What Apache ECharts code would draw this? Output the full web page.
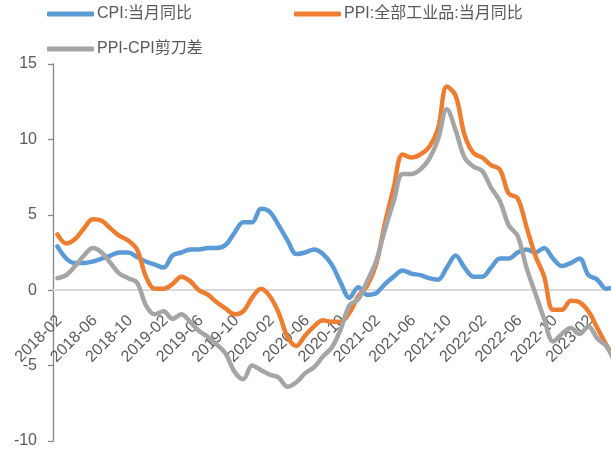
<!DOCTYPE html>
<html>
<head>
<meta charset="utf-8">
<script src="https://cdn.jsdelivr.net/npm/echarts@6/dist/echarts.min.js"></script>
<style>
  html, body { margin: 0; padding: 0; background: #fff; }
  #chart { width: 611px; height: 455px; }
</style>
</head>
<body>
<div id="chart"></div>
<script>
// meses (2018-02 .. 2023-05)
var months = [
  '2018-02', '2018-03', '2018-04', '2018-05', '2018-06', '2018-07', '2018-08', '2018-09', '2018-10', '2018-11', '2018-12',
  '2019-01', '2019-02', '2019-03', '2019-04', '2019-05', '2019-06', '2019-07', '2019-08', '2019-09', '2019-10', '2019-11', '2019-12',
  '2020-01', '2020-02', '2020-03', '2020-04', '2020-05', '2020-06', '2020-07', '2020-08', '2020-09', '2020-10', '2020-11', '2020-12',
  '2021-01', '2021-02', '2021-03', '2021-04', '2021-05', '2021-06', '2021-07', '2021-08', '2021-09', '2021-10', '2021-11', '2021-12',
  '2022-01', '2022-02', '2022-03', '2022-04', '2022-05', '2022-06', '2022-07', '2022-08', '2022-09', '2022-10', '2022-11', '2022-12',
  '2023-01', '2023-02', '2023-03', '2023-04', '2023-05'
];

var cpi = [
  2.9, 2.1, 1.8, 1.8, 1.9, 2.1, 2.3, 2.5, 2.5, 2.2, 1.9,
  1.7, 1.5, 2.3, 2.5, 2.7, 2.7, 2.8, 2.8, 3.0, 3.8, 4.5, 4.5,
  5.4, 5.2, 4.3, 3.3, 2.4, 2.5, 2.7, 2.4, 1.7, 0.5, -0.5, 0.2,
  -0.3, -0.2, 0.4, 0.9, 1.3, 1.1, 1.0, 0.8, 0.7, 1.5, 2.3, 1.5,
  0.9, 0.9, 1.5, 2.1, 2.1, 2.5, 2.7, 2.5, 2.8, 2.1, 1.6, 1.8,
  2.1, 1.0, 0.7, 0.1, 0.2
];

var ppi = [
  3.7, 3.1, 3.4, 4.1, 4.7, 4.6, 4.1, 3.6, 3.3, 2.7, 0.9,
  0.1, 0.1, 0.4, 0.9, 0.6, 0.0, -0.3, -0.8, -1.2, -1.6, -1.4, -0.5,
  0.1, -0.4, -1.5, -3.1, -3.7, -3.0, -2.4, -2.0, -2.1, -2.1, -1.5, -0.4,
  0.3, 1.7, 4.4, 6.8, 9.0, 8.8, 9.0, 9.5, 10.7, 13.5, 12.9, 10.3,
  9.1, 8.8, 8.3, 8.0, 6.4, 6.1, 4.2, 2.3, 0.9, -1.3, -1.3, -0.7,
  -0.8, -1.4, -2.5, -3.6, -4.6
];

var gap = [
  0.8, 1.0, 1.6, 2.3, 2.8, 2.5, 1.8, 1.1, 0.8, 0.5, -1.0,
  -1.6, -1.4, -1.9, -1.6, -2.1, -2.7, -3.1, -3.6, -4.2, -5.4, -5.9, -5.0,
  -5.3, -5.6, -5.8, -6.4, -6.1, -5.5, -5.1, -4.4, -3.8, -2.6, -1.0, -0.6,
  0.6, 1.9, 4.0, 5.9, 7.7, 7.7, 8.0, 8.7, 10.0, 12.0, 10.6, 8.8,
  8.2, 7.9, 6.8, 5.9, 4.3, 3.6, 1.5, -0.2, -1.9, -3.4, -2.9, -2.5,
  -2.9, -2.4, -3.2, -3.7, -4.8
];

var names = ['CPI:当月同比', 'PPI:全部工业品:当月同比', 'PPI-CPI剪刀差'];
var colors = ['#5B9BD5', '#ED7D31', '#A5A5A5'];

var font = '"Liberation Sans", Arial, "Noto Sans CJK SC", sans-serif';

// grid: top 64, bottom 14 -> cero en y≈290, el eje x se sube con offset
var gridTop = 64, gridBottom = 14, yMin = -10, yMax = 15;
var plotH = 455 - gridTop - gridBottom;
var zeroOffset = -(plotH * (0 - yMin) / (yMax - yMin));
// etiquetas del eje x: segunda rejilla cuyo borde inferior queda bajo la línea del cero
var labelShift = 2;
var labelEdgeY = 310;

var myChart = echarts.init(document.getElementById('chart'), null, { renderer: 'canvas' });

function legendItem(name, left, top) {
  return {
    data: [name],
    left: left,
    top: top,
    padding: 0,
    icon: 'roundRect',
    itemWidth: 47,
    itemHeight: 5,
    selectedMode: false,
    textStyle: { fontSize: 16, color: '#595959', fontFamily: font, padding: [0, 0, 0, -2] }
  };
}

function lineSeries(i, data) {
  return {
    name: names[i],
    type: 'line',
    data: data,
    smooth: 0.35,
    symbol: 'none',
    color: colors[i],
    lineStyle: { width: 4.5, color: colors[i], cap: 'round', join: 'round' }
  };
}

var option = {
  animation: false,
  backgroundColor: '#fff',
  legend: [
    legendItem(names[0], 47, 6),
    legendItem(names[1], 294, 6),
    legendItem(names[2], 47, 41)
  ],
  grid: [
    { left: 53, right: -8.4, top: gridTop, bottom: gridBottom, containLabel: false, outerBoundsMode: 'none' },
    { left: 53 + labelShift, right: -8.4 - labelShift, top: gridTop, bottom: 455 - labelEdgeY, containLabel: false, outerBoundsMode: 'none' }
  ],
  xAxis: [
    {
      type: 'category',
      data: months,
      boundaryGap: true,
      offset: zeroOffset,
      axisLine: { onZero: false, lineStyle: { color: '#d9d9d9', width: 2 } },
      axisTick: { interval: 3, length: 5, lineStyle: { color: '#d9d9d9', width: 1.5 } },
      axisLabel: { show: false },
      splitLine: { show: false }
    },
    {
      gridIndex: 1,
      type: 'category',
      data: months,
      boundaryGap: true,
      axisLine: { show: false, onZero: false },
      axisTick: { show: false },
      axisLabel: {
        interval: 3,
        rotate: 45,
        margin: 8,
        fontSize: 16,
        color: '#595959',
        fontFamily: font
      },
      splitLine: { show: false }
    }
  ],
  yAxis: [
    {
      type: 'value',
      min: yMin,
      max: yMax,
      interval: 5,
      axisLine: { show: true, lineStyle: { color: '#868686', width: 1.3 } },
      axisTick: { show: true, length: 5, lineStyle: { color: '#868686', width: 1.3 } },
      axisLabel: { margin: 16, fontSize: 16, color: '#595959', fontFamily: font },
      splitLine: { show: false }
    },
    { gridIndex: 1, type: 'value', min: yMin, max: yMax, show: false }
  ],
  series: [
    lineSeries(0, cpi),
    lineSeries(1, ppi),
    lineSeries(2, gap)
  ]
};

myChart.setOption(option);
</script>
</body>
</html>
